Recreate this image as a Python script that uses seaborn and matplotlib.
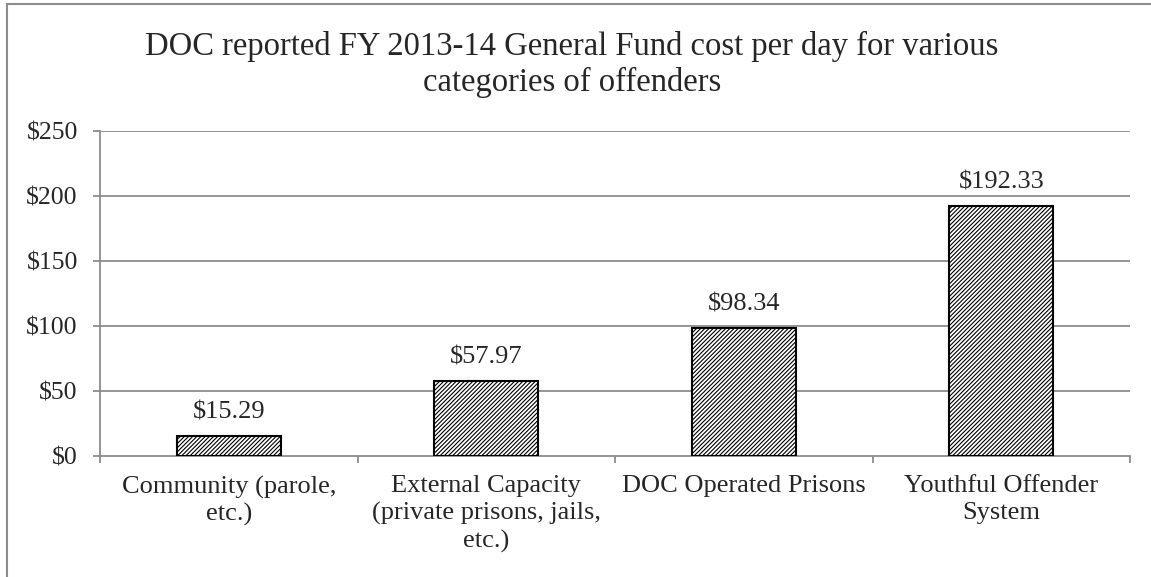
import matplotlib
matplotlib.use("Agg")
import matplotlib.pyplot as plt
import seaborn as sns
import pandas as pd
from matplotlib.patches import Rectangle

categories = [
    "Community (parole,\netc.)",
    "External Capacity\n(private prisons, jails,\netc.)",
    "DOC Operated Prisons",
    "Youthful Offender\nSystem",
]
cost_per_day = [15.29, 57.97, 98.34, 192.33]
y_ticks = [0, 50, 100, 150, 200, 250]
title = "DOC reported FY 2013-14 General Fund cost per day for various\ncategories of offenders"

sns.set_theme(style="white")
plt.rcParams["font.family"] = ["Liberation Serif", "DejaVu Serif"]
plt.rcParams["hatch.linewidth"] = 0.8
plt.rcParams["hatch.color"] = "black"

df = pd.DataFrame({"category": categories, "cost": cost_per_day})

fig = plt.figure(figsize=(11.51, 5.77), dpi=100)
ax = fig.add_axes([100 / 1151, 121 / 577, 1030 / 1151, 325 / 577])

grid_color = "#8c8c8c"
sns.barplot(data=df, x="category", y="cost", ax=ax, color="white",
            width=0.405, edgecolor="black", linewidth=1.5, zorder=3)
for bar in ax.patches:
    bar.set_hatch("////////")
    bar.set_facecolor("white")

ax.set_ylim(0, 250)
ax.set_xlim(-0.5, len(categories) - 0.5)
ax.set_yticks(y_ticks)
ax.set_yticklabels([f"${v}" for v in y_ticks], fontsize=18.5)
ax.set_xticks(range(len(categories)))
ax.set_xticklabels(categories, fontsize=19, linespacing=1.27)
ax.set_xlabel("")
ax.set_ylabel("")

for v in y_ticks[1:]:
    ax.axhline(v, color=grid_color, linewidth=1.3, zorder=1)

for side in ["top", "right"]:
    ax.spines[side].set_visible(False)
for side in ["left", "bottom"]:
    ax.spines[side].set_color(grid_color)
    ax.spines[side].set_linewidth(1.3)

ax.tick_params(axis="y", which="major", length=5, width=1.3, color=grid_color,
               direction="out", pad=11, left=True)
ax.tick_params(axis="x", which="major", length=0, pad=14)
ax.set_xticks([i - 0.5 for i in range(len(categories) + 1)], minor=True)
ax.tick_params(axis="x", which="minor", length=5, width=1.3, color=grid_color,
               direction="out", bottom=True)

labels = [f"${v:.2f}" for v in cost_per_day]
ax.bar_label(ax.containers[0], labels=labels, padding=9, fontsize=19)

fig.text(0.497, 0.946, title, ha="center", va="top", fontsize=23.5, linespacing=1.2)

fig.patches.append(Rectangle((7 / 1151, -0.5), 2, 0.5 + 573 / 577,
                             transform=fig.transFigure, fill=False,
                             edgecolor=grid_color, linewidth=1.5))

fig.savefig("out.png", dpi=100)
